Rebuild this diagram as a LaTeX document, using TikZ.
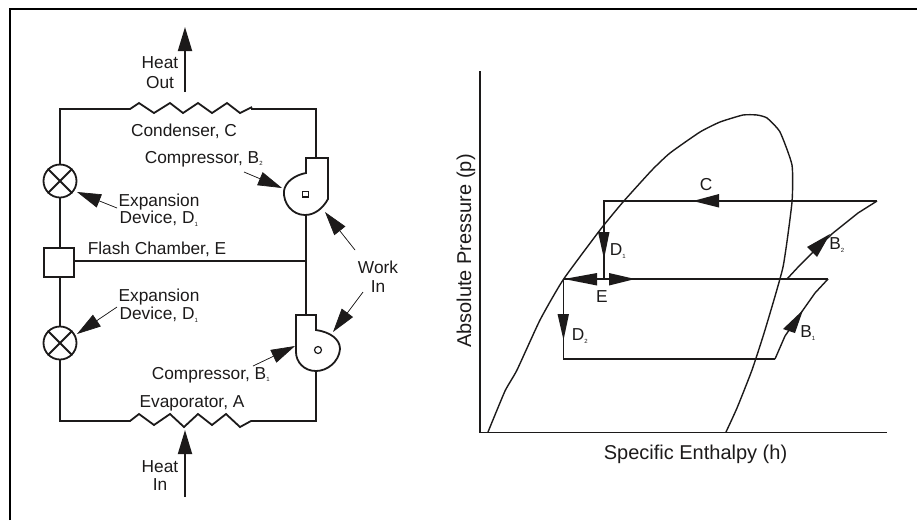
\documentclass[tikz,border=0pt]{standalone}
\usepackage{fontspec}
\setmainfont{Liberation Sans}
\usetikzlibrary{arrows.meta}
\definecolor{ink}{RGB}{28,26,26}
\tikzset{
  pipe/.style={line width=1.8pt,line join=miter,draw=ink},
  curve/.style={line width=1.4pt,line join=round,draw=ink},
  lbl/.style={inner sep=0pt,font=\fontsize{17.3}{18}\selectfont,align=center,text=ink},
  axl/.style={inner sep=0pt,font=\fontsize{20}{22}\selectfont,align=center,text=ink},
  big/.style={-{Triangle[length=24pt,width=14pt]},line width=1.8pt,draw=ink,fill=ink},
  lead/.style={-{Triangle[length=24pt,width=14pt]},line width=.7pt,draw=ink,fill=ink},
  head/.style={fill=ink,draw=none},
}
\newcommand{\subs}[1]{\textsubscript{\fontsize{6}{6}\selectfont #1}}
\begin{document}
\begin{tikzpicture}[x=1pt,y=-1pt]
\useasboundingbox (0,0) rectangle (917,520);
\draw[line width=2.3pt,draw=black] (10,520) -- (10,9) -- (917,9);
% condenser
\coordinate (TL) at (60,109);
\coordinate (TR) at (316,109);
\coordinate (BL) at (60,421);
\coordinate (BR) at (316,421);
\draw[pipe] (60,165) -- (TL) -- (130,109) -- (139,103) -- (154,113) -- (170,103) -- (183,113) -- (198,103) -- (212,113) -- (227,103) -- (240,113) -- (252,107);
\draw[pipe] (251,109) -- (TR) -- (316,158);
% evaporator
\draw[pipe] (60,359) -- (BL) -- (130,421) -- (139,414) -- (154,425) -- (170,414) -- (184,427) -- (198,414) -- (212,425) -- (226,414) -- (240,427) -- (251,421) -- (BR) -- (316,371);
% expansion devices
\node[circle,pipe,draw,minimum size=33pt,inner sep=0pt] (exa) at (60,181) {};
\node[circle,pipe,draw,minimum size=33pt,inner sep=0pt] (exb) at (60,343) {};
\draw[pipe] (exa.north west)--(exa.south east) (exa.north east)--(exa.south west);
\draw[pipe] (exb.north west)--(exb.south east) (exb.north east)--(exb.south west);
% flash chamber
\node[rectangle,pipe,draw,minimum width=30pt,minimum height=29pt,inner sep=0pt] (flash) at (59,262.5) {};
\draw[pipe] (exa.south) -- (exa.south |- flash.north);
\draw[pipe] (exb.north) -- (exb.north |- flash.south);
% compressor B2
\draw[pipe] (306,158) -- (328,158) -- (328,199) .. controls (323,208) and (315,215) .. (305,215) .. controls (292,215) and (283,203) .. (284,191) .. controls (285,182) and (295,175) .. (306,173) -- cycle;
\draw[pipe] (306,215) -- (306,315);
\draw[pipe] (flash.east |- 0,261) -- (306,261);
\draw[line width=1.2pt,draw=ink] (302.5,191.5) rectangle (308.5,197);
% compressor B1
\draw[pipe] (296,315) -- (316,315) -- (316,330) .. controls (330,332) and (340,339) .. (340,349) .. controls (339,362) and (327,371) .. (316,371) .. controls (304,371) and (296,362) .. (296,352) -- cycle;
\node[circle,draw=ink,line width=1.2pt,minimum size=7pt,inner sep=0pt] (hub) at (318,350) {};
% heat arrows
\coordinate (ho1) at (185,92); \coordinate (ho2) at (185,27);
\draw[big] (ho1) -- (ho2);
\coordinate (hi1) at (185,497); \coordinate (hi2) at (185,430);
\draw[big] (hi1) -- (hi2);
% leaders
\coordinate (l1a) at (117,208); \coordinate (l1b) at (77,192);
\draw[lead] (l1a) -- (l1b);
\coordinate (l2a) at (117,307); \coordinate (l2b) at (77,334);
\draw[lead] (l2a) -- (l2b);
\coordinate (l3a) at (244,172); \coordinate (l3b) at (282,188);
\draw[lead] (l3a) -- (l3b);
\coordinate (l4a) at (253,366); \coordinate (l4b) at (295,346);
\draw[lead] (l4a) -- (l4b);
\coordinate (l5a) at (355,250); \coordinate (l5b) at (325,212);
\draw[lead] (l5a) -- (l5b);
\coordinate (l6a) at (363,292); \coordinate (l6b) at (333,332);
\draw[lead] (l6a) -- (l6b);
% labels
\node[lbl] (t1a) at (160,63) {Heat};
\node[lbl] (t1b) at (160,83) {Out};
\node[lbl] (t2) at (184,131) {Condenser, C};
\node[lbl] (t3) at (204,159) {Compressor, B\subs{2}};
\node[lbl] (t4a) at (159,202) {Expansion};
\node[lbl] (t4b) at (159,219) {Device, D\subs{1}};
\node[lbl] (t5) at (157,249) {Flash Chamber, E};
\node[lbl] (t6a) at (378,267) {Work};
\node[lbl] (t6b) at (378,287) {In};
\node[lbl] (t7a) at (159,297) {Expansion};
\node[lbl] (t7b) at (159,315) {Device, D\subs{1}};
\node[lbl] (t8) at (211,375) {Compressor, B\subs{1}};
\node[lbl] (t9) at (192,403) {Evaporator, A};
\node[lbl] (t10a) at (160,467) {Heat};
\node[lbl] (t10b) at (160,485) {In};
% p-h chart
\draw[pipe] (480,71) -- (480,432.5) -- (887,432.5);
\node[axl,rotate=90] (yl) at (466,251) {Absolute Pressure (p)};
\node[axl] (xl) at (695.5,454) {Specific Enthalpy (h)};
% dome
\draw[curve] plot[smooth,tension=.3] coordinates {(488,432) (505,391) (517,370) (540,320) (563,280) (600,230) (623,202) (652,170) (670,153) (700,132) (720,122) (743,115) (757,115) (767,118) (780,132) (792,165) (792,202) (783,267) (765,330) (752,370) (737,408) (726,432)};
% cycle
\coordinate (a) at (604,201); \coordinate (b) at (877,201);
\coordinate (c) at (563.5,279); \coordinate (d) at (828,279);
\coordinate (e) at (563.5,359); \coordinate (f) at (775,359);
\coordinate (g) at (604,279); \coordinate (m) at (787,279);
\draw[pipe] (b) -- (a) -- (g);
\draw[pipe] (c) -- (d);
\draw[pipe] (c) -- (e) -- (f);
\draw[curve] (f) -- (785,336) -- (803,310) -- (815,293) -- (d);
\draw[curve] (m) -- (800,265) -- (813,252) -- (833,233) -- (858,213) -- (b);
\fill[head] (719,194) -- (693,201) -- (719,207.5) -- cycle;
\fill[head] (598,232) -- (604,259) -- (609.5,232) -- cycle;
\fill[head] (564,279) -- (597,273) -- (597,285.5) -- cycle;
\fill[head] (635,279) -- (609,273) -- (609,285.5) -- cycle;
\fill[head] (557.5,314) -- (563.5,340) -- (569,314) -- cycle;
\fill[head] (783,329) -- (803,310) -- (795,333) -- cycle;
\fill[head] (807,247) -- (830,234) -- (817,257) -- cycle;
\node[lbl] (C) at (706,185) {C};
\node[lbl] (D1) at (618,251) {D\subs{1}};
\node[lbl] (E) at (602,297) {E};
\node[lbl] (D2) at (580,336) {D\subs{2}};
\node[lbl] (B1) at (808,333) {B\subs{1}};
\node[lbl] (B2) at (837,245) {B\subs{2}};
\end{tikzpicture}
\end{document}
